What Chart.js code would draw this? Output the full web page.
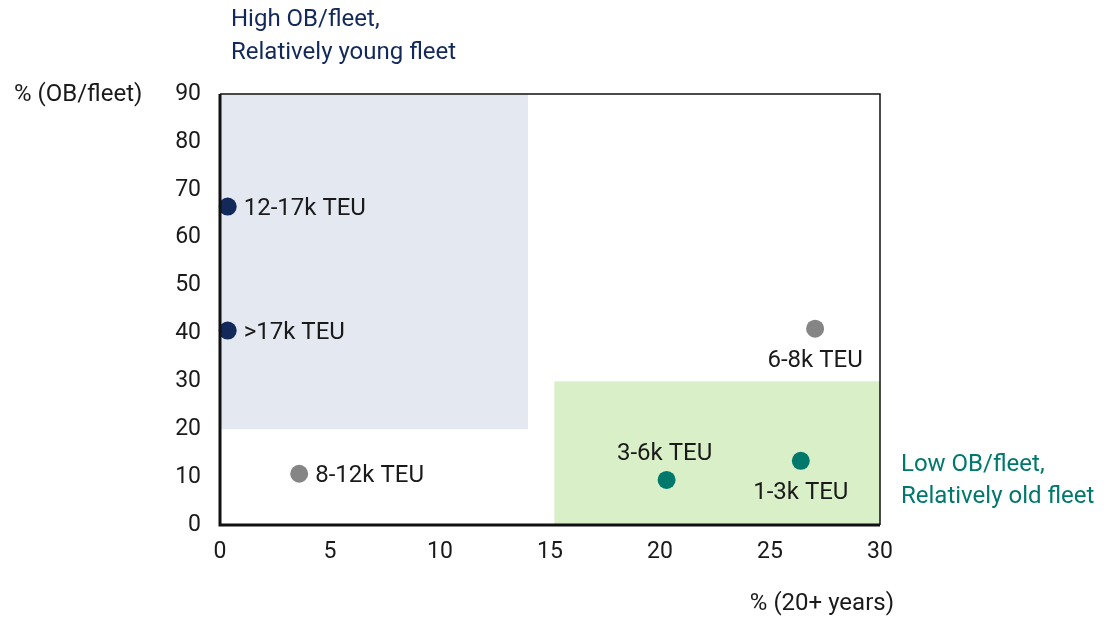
<!DOCTYPE html>
<html>
<head>
<meta charset="utf-8">
<script src="https://cdn.jsdelivr.net/npm/chart.js@4/dist/chart.umd.min.js"></script>
<style>
  html, body { margin: 0; padding: 0; background: #fff; }
  #wrap { width: 1114px; height: 618px; position: relative; }
</style>
</head>
<body>
<div id="wrap"><canvas id="chart"></canvas></div>
<script>
// data
const segments = ['12-17k TEU', '>17k TEU', '8-12k TEU', '6-8k TEU', '3-6k TEU', '1-3k TEU'];
const ageShare = [0.35, 0.35, 3.6, 27.05, 20.3, 26.4];      // % (20+ years)
const orderbookShare = [66.5, 40.6, 10.7, 41.0, 9.4, 13.4]; // % (OB/fleet)
const groups = ['young', 'young', 'mid', 'mid', 'old', 'old'];
const labelSide = ['right', 'right', 'right', 'below', 'above', 'below'];

const xTicks = [0, 5, 10, 15, 20, 25, 30];
const yTicks = [0, 10, 20, 30, 40, 50, 60, 70, 80, 90];

// shaded quadrants in data units [xMin, xMax, yMin, yMax]
const youngZone = [0, 14, 20, 90];
const oldZone = [15.2, 30, 0, 30];

const NAVY = '#13295a';
const TEAL = '#00786b';
const GREY = '#858585';
const colorOf = { young: NAVY, mid: GREY, old: TEAL };
const FONT = 'Roboto, "Open Sans", sans-serif';

const overlay = {
  id: 'overlay',
  beforeDatasetsDraw(chart) {
    const { ctx, scales: { x, y } } = chart;
    const box = (z, fill) => {
      const l = x.getPixelForValue(z[0]), r = x.getPixelForValue(z[1]);
      const t = y.getPixelForValue(z[3]), b = y.getPixelForValue(z[2]);
      ctx.fillStyle = fill;
      ctx.fillRect(l, t, r - l, b - t);
    };
    ctx.save();
    box(youngZone, '#e4e8f1');
    box(oldZone, '#d9efc7');
    ctx.restore();
  },
  afterDraw(chart) {
    const { ctx, chartArea: a, scales: { x, y } } = chart;
    ctx.save();
    // frame: thin top/right, heavier left/bottom
    ctx.strokeStyle = '#111';
    ctx.lineWidth = 1.5;
    ctx.beginPath();
    ctx.moveTo(a.left, a.top); ctx.lineTo(a.right, a.top); ctx.lineTo(a.right, a.bottom);
    ctx.stroke();
    ctx.lineWidth = 3;
    ctx.beginPath();
    ctx.moveTo(a.left, a.top); ctx.lineTo(a.left, a.bottom); ctx.lineTo(a.right, a.bottom);
    ctx.stroke();

    // point labels
    ctx.font = '24px ' + FONT;
    ctx.fillStyle = '#1a1a1a';
    ctx.textBaseline = 'middle';
    segments.forEach((s, i) => {
      const px = x.getPixelForValue(ageShare[i]);
      const py = y.getPixelForValue(orderbookShare[i]);
      if (labelSide[i] === 'right') {
        ctx.textAlign = 'left';
        ctx.fillText(s, px + 16, py + 2);
      } else if (labelSide[i] === 'below') {
        ctx.textAlign = 'center';
        ctx.fillText(s, px, py + 32);
      } else {
        ctx.textAlign = 'center';
        ctx.fillText(s, px - 2, py - 26);
      }
    });

    // axis titles
    ctx.textAlign = 'left';
    ctx.fillText('% (OB/fleet)', 14, a.top + 1);
    ctx.textAlign = 'right';
    ctx.fillText('% (20+ years)', a.right + 14, 604);

    // quadrant notes
    ctx.textAlign = 'left';
    ctx.fillStyle = NAVY;
    ctx.fillText('High OB/fleet,', 231, 20);
    ctx.fillText('Relatively young fleet', 231, 53);
    ctx.fillStyle = TEAL;
    ctx.fillText('Low OB/fleet,', 901, 465);
    ctx.fillText('Relatively old fleet', 901, 497);
    ctx.restore();
  }
};

new Chart(document.getElementById('chart'), {
  type: 'scatter',
  data: {
    datasets: [{
      data: segments.map((s, i) => ({ x: ageShare[i], y: orderbookShare[i] })),
      backgroundColor: groups.map(g => colorOf[g]),
      borderWidth: 0,
      pointRadius: 9,
      clip: false
    }]
  },
  options: {
    responsive: true,
    maintainAspectRatio: false,
    animation: false,
    layout: { padding: { top: 94, right: 234, left: 0, bottom: 0 } },
    plugins: { legend: { display: false }, tooltip: { enabled: false } },
    scales: {
      x: {
        type: 'linear', min: 0, max: 30,
        afterBuildTicks: s => { s.ticks = xTicks.map(v => ({ value: v })); },
        afterFit: s => { s.height = 93; },
        grid: { display: false, drawTicks: false },
        border: { display: false },
        ticks: { color: '#1a1a1a', font: { family: FONT, size: 23 }, padding: 13 }
      },
      y: {
        type: 'linear', min: 0, max: 90,
        afterBuildTicks: s => { s.ticks = yTicks.map(v => ({ value: v })); },
        afterFit: s => { s.width = 220; },
        grid: { display: false, drawTicks: false },
        border: { display: false },
        ticks: { color: '#1a1a1a', font: { family: FONT, size: 23 }, padding: 19 }
      }
    }
  },
  plugins: [overlay]
});
</script>
</body>
</html>
